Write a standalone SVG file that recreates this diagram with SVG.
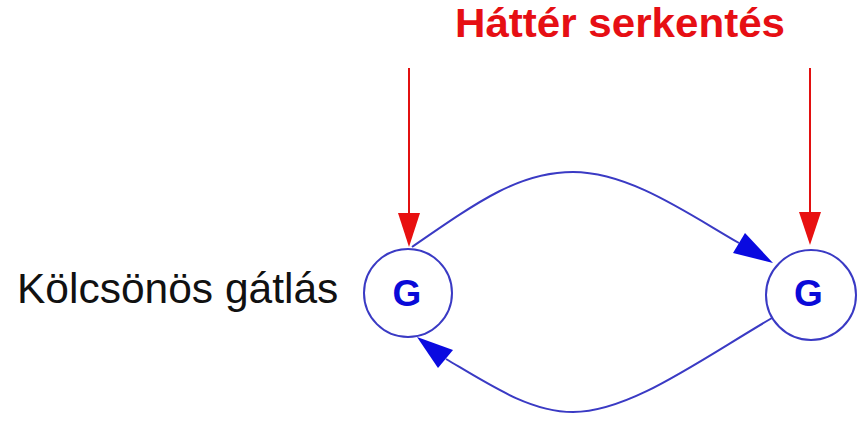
<svg xmlns="http://www.w3.org/2000/svg" width="859" height="421" viewBox="0 0 859 421">
<style>
.node{fill:#fff;stroke:#3a3ac4;stroke-width:2}
.g{font-family:"Liberation Sans",Arial,sans-serif;font-weight:bold;font-size:37px;fill:#0a0ad8;text-anchor:middle}
.edge{fill:none;stroke:#3a3ac4;stroke-width:2}
.head{fill:#0a0ae0}
.exc{stroke:#e21010;stroke-width:2;fill:none}
.exchead{fill:#e81010}
</style>
<rect width="859" height="421" fill="#fff"/>
<text x="455" y="37" font-family="Liberation Sans, Arial, sans-serif" font-weight="bold" font-size="40" fill="#e60f14" textLength="330" lengthAdjust="spacingAndGlyphs">Háttér serkentés</text>
<text id="label" x="17" y="303" font-family="Liberation Sans, Arial, sans-serif" font-size="42.5" fill="#111">Kölcsönös gátlás</text>
<g id="connectors">
<path class="edge" d="M412,247 C480,200 520,172 573,172 C630,172 690,215 739,243"/>
<polygon class="head" points="733,253 745,233 773,263"/>
<path class="edge" d="M772,318 C700,360 630,412 573,412 C530,412 490,385 446,359"/>
<polygon class="head" points="438,368 453,350 417,337"/>
<line class="exc" x1="409" y1="68" x2="409" y2="215"/>
<polygon class="exchead" points="398,213 420,213 409,247"/>
<line class="exc" x1="810" y1="68" x2="810" y2="214"/>
<polygon class="exchead" points="799,212 821,212 810,245"/>
</g>
<g id="node-left">
<circle class="node" cx="408" cy="293" r="44"/>
<text class="g" x="407" y="306">G</text>
</g>
<g id="node-right">
<circle class="node" cx="811" cy="295" r="45"/>
<text class="g" x="808.5" y="306">G</text>
</g>
</svg>
